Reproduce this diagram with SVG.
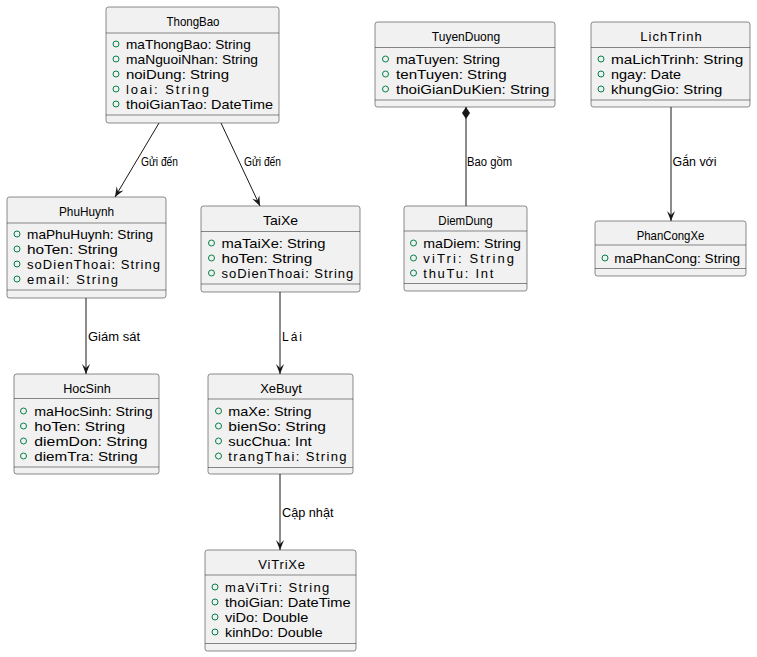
<svg xmlns="http://www.w3.org/2000/svg" width="757" height="657" viewBox="0 0 757 657">
<style>
.box{fill:#F1F1F1;stroke:#181818;stroke-width:0.5}
.sep{stroke:#181818;stroke-width:0.5}
.t{font-family:"Liberation Sans",Arial,sans-serif;font-size:13px;fill:#000}
.ti{text-anchor:middle}
.v{fill:none;stroke:#038048;stroke-width:1}
.lbl{font-family:"Liberation Sans",Arial,sans-serif;font-size:12px;fill:#000}
.c{stroke:#181818;stroke-width:1;fill:none}
</style>
<defs>
<marker id="arr" markerUnits="userSpaceOnUse" markerWidth="12" markerHeight="10" refX="10" refY="4" orient="auto">
<path d="M0,0 L10,4 L0,8 L4,4 Z" fill="#181818"/>
</marker>
<marker id="dia" markerUnits="userSpaceOnUse" markerWidth="14" markerHeight="10" refX="0" refY="4" orient="auto">
<path d="M0,4 L6,0 L12,4 L6,8 Z" fill="#181818"/>
</marker>
</defs>

<g id="connectors">
<line class="c" x1="159" y1="123" x2="115" y2="197" marker-end="url(#arr)"/>
<text class="lbl" x="141" y="166" textLength="37" lengthAdjust="spacingAndGlyphs">Gửi đến</text>
<line class="c" x1="221" y1="123" x2="260" y2="206" marker-end="url(#arr)"/>
<text class="lbl" x="244" y="166" textLength="37" lengthAdjust="spacingAndGlyphs">Gửi đến</text>
<line class="c" x1="86" y1="298" x2="86" y2="374" marker-end="url(#arr)"/>
<text class="lbl" x="88" y="341" textLength="52" lengthAdjust="spacingAndGlyphs">Giám sát</text>
<line class="c" x1="280" y1="292" x2="280" y2="374" marker-end="url(#arr)"/>
<text class="lbl" x="282" y="341" textLength="20" lengthAdjust="spacing">Lái</text>
<line class="c" x1="280" y1="474" x2="280" y2="550" marker-end="url(#arr)"/>
<text class="lbl" x="282" y="517" textLength="51.5" lengthAdjust="spacingAndGlyphs">Cập nhật</text>
<line class="c" x1="466" y1="107" x2="466" y2="206" marker-start="url(#dia)"/>
<text class="lbl" x="467" y="166" textLength="45" lengthAdjust="spacingAndGlyphs">Bao gồm</text>
<line class="c" x1="671" y1="107" x2="671" y2="221" marker-end="url(#arr)"/>
<text class="lbl" x="672.5" y="165.5" textLength="44" lengthAdjust="spacingAndGlyphs">Gắn với</text>
</g>

<g id="ThongBao">
<rect class="box" x="106" y="7" width="173" height="116" rx="2.5"/>
<text class="t ti" x="193" y="25.5" textLength="53" lengthAdjust="spacingAndGlyphs">ThongBao</text>
<line class="sep" x1="106" y1="33" x2="279" y2="33"/>
<circle class="v" cx="116" cy="44" r="3"/><text class="t" x="126" y="48.5" textLength="124.7" lengthAdjust="spacingAndGlyphs">maThongBao: String</text>
<circle class="v" cx="116" cy="59" r="3"/><text class="t" x="126" y="63.5" textLength="132" lengthAdjust="spacingAndGlyphs">maNguoiNhan: String</text>
<circle class="v" cx="116" cy="74" r="3"/><text class="t" x="126" y="78.5" textLength="103" lengthAdjust="spacingAndGlyphs">noiDung: String</text>
<circle class="v" cx="116" cy="89" r="3"/><text class="t" x="126" y="93.5" textLength="83" lengthAdjust="spacing">loai: String</text>
<circle class="v" cx="116" cy="104" r="3"/><text class="t" x="126" y="108.5" textLength="147" lengthAdjust="spacingAndGlyphs">thoiGianTao: DateTime</text>
<line class="sep" x1="106" y1="115" x2="279" y2="115"/>
</g>

<g id="PhuHuynh">
<rect class="box" x="7" y="197" width="159" height="101" rx="2.5"/>
<text class="t ti" x="86.5" y="215.5" textLength="55" lengthAdjust="spacingAndGlyphs">PhuHuynh</text>
<line class="sep" x1="7" y1="223" x2="166" y2="223"/>
<circle class="v" cx="17" cy="234" r="3"/><text class="t" x="27" y="238.5" textLength="126" lengthAdjust="spacingAndGlyphs">maPhuHuynh: String</text>
<circle class="v" cx="17" cy="249" r="3"/><text class="t" x="27" y="253.5" textLength="90.7" lengthAdjust="spacingAndGlyphs">hoTen: String</text>
<circle class="v" cx="17" cy="264" r="3"/><text class="t" x="27" y="268.5" textLength="133" lengthAdjust="spacing">soDienThoai: String</text>
<circle class="v" cx="17" cy="279" r="3"/><text class="t" x="27" y="283.5" textLength="91" lengthAdjust="spacing">email: String</text>
<line class="sep" x1="7" y1="290" x2="166" y2="290"/>
</g>

<g id="TaiXe">
<rect class="box" x="201" y="206" width="159" height="86" rx="2.5"/>
<text class="t ti" x="280.5" y="224.5" textLength="35" lengthAdjust="spacingAndGlyphs">TaiXe</text>
<line class="sep" x1="201" y1="231.5" x2="360" y2="231.5"/>
<circle class="v" cx="211.5" cy="243" r="3"/><text class="t" x="221.5" y="247.5" textLength="104" lengthAdjust="spacingAndGlyphs">maTaiXe: String</text>
<circle class="v" cx="211.5" cy="258" r="3"/><text class="t" x="221.5" y="262.5" textLength="90.7" lengthAdjust="spacingAndGlyphs">hoTen: String</text>
<circle class="v" cx="211.5" cy="273" r="3"/><text class="t" x="221.5" y="277.5" textLength="131.7" lengthAdjust="spacing">soDienThoai: String</text>
<line class="sep" x1="201" y1="284" x2="360" y2="284"/>
</g>

<g id="TuyenDuong">
<rect class="box" x="375" y="22" width="180" height="85" rx="2.5"/>
<text class="t ti" x="466" y="40.5" textLength="68.3" lengthAdjust="spacingAndGlyphs">TuyenDuong</text>
<line class="sep" x1="375" y1="47.5" x2="555" y2="47.5"/>
<circle class="v" cx="385.5" cy="59" r="3"/><text class="t" x="396" y="63.5" textLength="104" lengthAdjust="spacingAndGlyphs">maTuyen: String</text>
<circle class="v" cx="385.5" cy="74" r="3"/><text class="t" x="396" y="78.5" textLength="110.7" lengthAdjust="spacingAndGlyphs">tenTuyen: String</text>
<circle class="v" cx="385.5" cy="89" r="3"/><text class="t" x="396" y="93.5" textLength="153.3" lengthAdjust="spacingAndGlyphs">thoiGianDuKien: String</text>
<line class="sep" x1="375" y1="100" x2="555" y2="100"/>
</g>

<g id="DiemDung">
<rect class="box" x="404" y="206" width="123" height="85" rx="2.5"/>
<text class="t ti" x="465.5" y="224.5" textLength="54.3" lengthAdjust="spacingAndGlyphs">DiemDung</text>
<line class="sep" x1="404" y1="231" x2="527" y2="231"/>
<circle class="v" cx="413.5" cy="243" r="3"/><text class="t" x="423.3" y="247.5" textLength="97.7" lengthAdjust="spacingAndGlyphs">maDiem: String</text>
<circle class="v" cx="413.5" cy="258" r="3"/><text class="t" x="423.3" y="262.5" textLength="90.7" lengthAdjust="spacing">viTri: String</text>
<circle class="v" cx="413.5" cy="273" r="3"/><text class="t" x="423.3" y="277.5" textLength="70" lengthAdjust="spacing">thuTu: Int</text>
<line class="sep" x1="404" y1="283.5" x2="527" y2="283.5"/>
</g>

<g id="LichTrinh">
<rect class="box" x="591" y="22" width="159" height="85" rx="2.5"/>
<text class="t ti" x="671" y="40.5" textLength="61.7" lengthAdjust="spacing">LichTrinh</text>
<line class="sep" x1="591" y1="47.5" x2="750" y2="47.5"/>
<circle class="v" cx="601" cy="59" r="3"/><text class="t" x="611" y="63.5" textLength="132.3" lengthAdjust="spacingAndGlyphs">maLichTrinh: String</text>
<circle class="v" cx="601" cy="74" r="3"/><text class="t" x="611" y="78.5" textLength="70" lengthAdjust="spacingAndGlyphs">ngay: Date</text>
<circle class="v" cx="601" cy="89" r="3"/><text class="t" x="611" y="93.5" textLength="111.3" lengthAdjust="spacingAndGlyphs">khungGio: String</text>
<line class="sep" x1="591" y1="100" x2="750" y2="100"/>
</g>

<g id="PhanCongXe">
<rect class="box" x="595" y="221" width="151" height="55" rx="2.5"/>
<text class="t ti" x="670.5" y="239.5" textLength="67.7" lengthAdjust="spacingAndGlyphs">PhanCongXe</text>
<line class="sep" x1="595" y1="245" x2="746" y2="245"/>
<circle class="v" cx="605" cy="258" r="3"/><text class="t" x="614.3" y="262.5" textLength="125.7" lengthAdjust="spacingAndGlyphs">maPhanCong: String</text>
<line class="sep" x1="595" y1="268.5" x2="746" y2="268.5"/>
</g>

<g id="HocSinh">
<rect class="box" x="14" y="374" width="145" height="100" rx="2.5"/>
<text class="t ti" x="87" y="392.5" textLength="47.7" lengthAdjust="spacingAndGlyphs">HocSinh</text>
<line class="sep" x1="14" y1="398.5" x2="159" y2="398.5"/>
<circle class="v" cx="23.5" cy="411" r="3"/><text class="t" x="34.3" y="415.5" textLength="118.3" lengthAdjust="spacingAndGlyphs">maHocSinh: String</text>
<circle class="v" cx="23.5" cy="426" r="3"/><text class="t" x="34.3" y="430.5" textLength="90.7" lengthAdjust="spacingAndGlyphs">hoTen: String</text>
<circle class="v" cx="23.5" cy="441" r="3"/><text class="t" x="34.3" y="445.5" textLength="113.3" lengthAdjust="spacingAndGlyphs">diemDon: String</text>
<circle class="v" cx="23.5" cy="456" r="3"/><text class="t" x="34.3" y="460.5" textLength="103.3" lengthAdjust="spacingAndGlyphs">diemTra: String</text>
<line class="sep" x1="14" y1="467" x2="159" y2="467"/>
</g>

<g id="XeBuyt">
<rect class="box" x="208" y="374" width="145" height="100" rx="2.5"/>
<text class="t ti" x="281" y="392.5" textLength="41.7" lengthAdjust="spacingAndGlyphs">XeBuyt</text>
<line class="sep" x1="208" y1="399" x2="353" y2="399"/>
<circle class="v" cx="218.5" cy="411" r="3"/><text class="t" x="228.3" y="415.5" textLength="83.3" lengthAdjust="spacingAndGlyphs">maXe: String</text>
<circle class="v" cx="218.5" cy="426" r="3"/><text class="t" x="228.3" y="430.5" textLength="97.7" lengthAdjust="spacingAndGlyphs">bienSo: String</text>
<circle class="v" cx="218.5" cy="441" r="3"/><text class="t" x="228.3" y="445.5" textLength="83.3" lengthAdjust="spacingAndGlyphs">sucChua: Int</text>
<circle class="v" cx="218.5" cy="456" r="3"/><text class="t" x="228.3" y="460.5" textLength="118.3" lengthAdjust="spacing">trangThai: String</text>
<line class="sep" x1="208" y1="467.5" x2="353" y2="467.5"/>
</g>

<g id="ViTriXe">
<rect class="box" x="205" y="550" width="151" height="101" rx="2.5"/>
<text class="t ti" x="281.7" y="568.5" textLength="46.7" lengthAdjust="spacing">ViTriXe</text>
<line class="sep" x1="205" y1="575" x2="356" y2="575"/>
<circle class="v" cx="215" cy="587" r="3"/><text class="t" x="225" y="591.5" textLength="104.3" lengthAdjust="spacing">maViTri: String</text>
<circle class="v" cx="215" cy="602" r="3"/><text class="t" x="225" y="606.5" textLength="125.7" lengthAdjust="spacingAndGlyphs">thoiGian: DateTime</text>
<circle class="v" cx="215" cy="617" r="3"/><text class="t" x="225" y="621.5" textLength="83.3" lengthAdjust="spacingAndGlyphs">viDo: Double</text>
<circle class="v" cx="215" cy="632" r="3"/><text class="t" x="225" y="636.5" textLength="97.7" lengthAdjust="spacingAndGlyphs">kinhDo: Double</text>
<line class="sep" x1="205" y1="643.5" x2="356" y2="643.5"/>
</g>
</svg>
